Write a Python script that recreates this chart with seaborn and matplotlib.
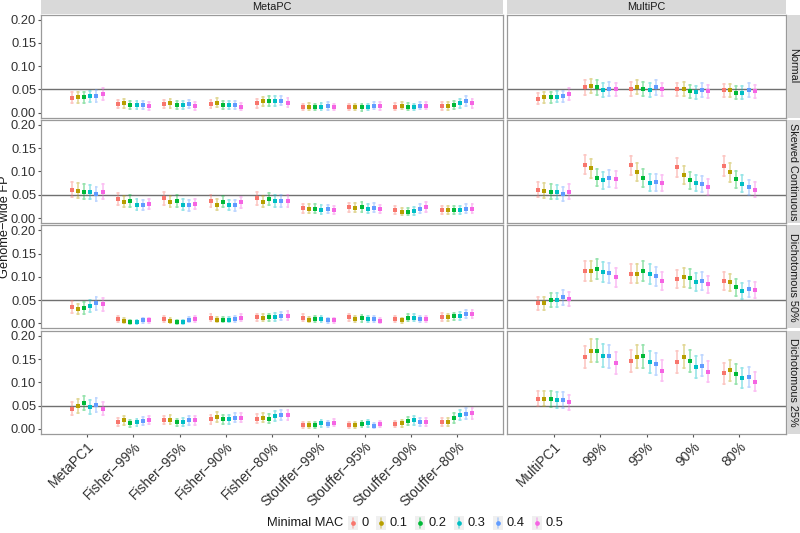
import numpy as np
import pandas as pd
import matplotlib
matplotlib.use("Agg")
import matplotlib.pyplot as plt
import seaborn as sns
from matplotlib.lines import Line2D
from matplotlib.patches import Rectangle

# ---------------- data ----------------
meta_methods = ["MetaPC1", "Fisher−99%", "Fisher−95%", "Fisher−90%", "Fisher−80%",
                "Stouffer−99%", "Stouffer−95%", "Stouffer−90%", "Stouffer−80%"]
multi_methods = ["MultiPC1", "99%", "95%", "90%", "80%"]
mac_levels = ["0", "0.1", "0.2", "0.3", "0.4", "0.5"]
scenarios = ["Normal", "Skewed Continuous", "Dichotomous 50%", "Dichotomous 25%"]
columns = ["MetaPC", "MultiPC"]
N_SIM = 850  # approx. number of simulations used for the binomial CI

normal_meta = [
    [0.032, 0.033, 0.033, 0.035, 0.036, 0.040],
    [0.019, 0.020, 0.017, 0.016, 0.017, 0.014],
    [0.019, 0.020, 0.017, 0.017, 0.019, 0.014],
    [0.019, 0.021, 0.017, 0.017, 0.017, 0.013],
    [0.020, 0.024, 0.025, 0.025, 0.026, 0.021],
    [0.012, 0.013, 0.012, 0.013, 0.014, 0.012],
    [0.012, 0.012, 0.011, 0.012, 0.015, 0.014],
    [0.013, 0.015, 0.013, 0.012, 0.015, 0.015],
    [0.014, 0.014, 0.017, 0.020, 0.025, 0.020]]
normal_multi = [
    [0.030, 0.033, 0.033, 0.034, 0.035, 0.040],
    [0.054, 0.057, 0.054, 0.049, 0.051, 0.050],
    [0.051, 0.055, 0.051, 0.049, 0.054, 0.050],
    [0.050, 0.051, 0.046, 0.044, 0.049, 0.046],
    [0.048, 0.048, 0.043, 0.043, 0.049, 0.046]]
skewed_meta = [
    [0.061, 0.059, 0.057, 0.056, 0.051, 0.057],
    [0.041, 0.035, 0.036, 0.029, 0.028, 0.030],
    [0.042, 0.035, 0.036, 0.029, 0.027, 0.030],
    [0.036, 0.029, 0.035, 0.028, 0.027, 0.034],
    [0.042, 0.035, 0.041, 0.037, 0.037, 0.037],
    [0.021, 0.020, 0.020, 0.018, 0.019, 0.017],
    [0.023, 0.022, 0.024, 0.020, 0.022, 0.019],
    [0.017, 0.014, 0.014, 0.015, 0.020, 0.024],
    [0.017, 0.017, 0.017, 0.017, 0.020, 0.020]]
skewed_multi = [
    [0.061, 0.059, 0.057, 0.056, 0.051, 0.057],
    [0.115, 0.107, 0.087, 0.081, 0.085, 0.083],
    [0.113, 0.099, 0.086, 0.076, 0.077, 0.075],
    [0.109, 0.093, 0.081, 0.075, 0.073, 0.067],
    [0.112, 0.098, 0.083, 0.074, 0.066, 0.061]]
dich50_meta = [
    [0.035, 0.031, 0.033, 0.038, 0.043, 0.041],
    [0.009, 0.006, 0.004, 0.004, 0.007, 0.007],
    [0.009, 0.006, 0.004, 0.004, 0.008, 0.009],
    [0.012, 0.008, 0.008, 0.008, 0.010, 0.012],
    [0.013, 0.012, 0.013, 0.014, 0.016, 0.017],
    [0.012, 0.008, 0.010, 0.009, 0.007, 0.007],
    [0.013, 0.009, 0.011, 0.009, 0.009, 0.006],
    [0.010, 0.007, 0.012, 0.012, 0.009, 0.009],
    [0.014, 0.013, 0.015, 0.016, 0.020, 0.020]]
dich50_multi = [
    [0.043, 0.043, 0.050, 0.051, 0.056, 0.053],
    [0.112, 0.113, 0.117, 0.110, 0.108, 0.099],
    [0.107, 0.107, 0.113, 0.106, 0.101, 0.092],
    [0.096, 0.099, 0.097, 0.089, 0.091, 0.084],
    [0.091, 0.088, 0.078, 0.070, 0.074, 0.071]]
dich25_meta = [
    [0.043, 0.049, 0.055, 0.047, 0.051, 0.043],
    [0.015, 0.018, 0.012, 0.014, 0.016, 0.019],
    [0.019, 0.020, 0.014, 0.015, 0.018, 0.018],
    [0.021, 0.025, 0.021, 0.021, 0.024, 0.024],
    [0.022, 0.024, 0.022, 0.028, 0.030, 0.030],
    [0.008, 0.008, 0.008, 0.012, 0.010, 0.013],
    [0.008, 0.008, 0.010, 0.012, 0.007, 0.010],
    [0.010, 0.012, 0.017, 0.018, 0.015, 0.015],
    [0.015, 0.015, 0.023, 0.030, 0.032, 0.033]]
dich25_multi = [
    [0.065, 0.065, 0.064, 0.062, 0.062, 0.057],
    [0.154, 0.168, 0.168, 0.157, 0.156, 0.142],
    [0.146, 0.155, 0.156, 0.144, 0.140, 0.125],
    [0.143, 0.155, 0.145, 0.133, 0.136, 0.123],
    [0.119, 0.126, 0.117, 0.109, 0.111, 0.101]]

panel_data = {
    ("Normal", "MetaPC"): normal_meta, ("Normal", "MultiPC"): normal_multi,
    ("Skewed Continuous", "MetaPC"): skewed_meta, ("Skewed Continuous", "MultiPC"): skewed_multi,
    ("Dichotomous 50%", "MetaPC"): dich50_meta, ("Dichotomous 50%", "MultiPC"): dich50_multi,
    ("Dichotomous 25%", "MetaPC"): dich25_meta, ("Dichotomous 25%", "MultiPC"): dich25_multi,
}

rows = []
for (scen, col), mat in panel_data.items():
    methods = meta_methods if col == "MetaPC" else multi_methods
    for m, vals in zip(methods, mat):
        for mac, v in zip(mac_levels, vals):
            rows.append(dict(scenario=scen, panel=col, method=m, mac=mac, fp=v))
df = pd.DataFrame(rows)
# seaborn skips intervals for single observations; repeat each estimate once
df2 = pd.concat([df, df], ignore_index=True)


def binom_ci(vals):
    p = float(np.mean(vals))
    se = np.sqrt(p * (1 - p) / N_SIM)
    return p - 1.96 * se, p + 1.96 * se


palette = ["#F8766D", "#B79F00", "#00BA38", "#00BFC4", "#619CFF", "#F564E3"]

# ---------------- figure ----------------
sns.set_theme(style="white")
plt.rcParams["font.family"] = ["Liberation Sans", "DejaVu Sans"]

W, H = 800, 533
fig = plt.figure(figsize=(W / 100, H / 100), dpi=100)


def fx(px):
    return px / W


def fy(py):
    return 1 - py / H


col_x = {"MetaPC": (41.0, 503.3), "MultiPC": (507.3, 785.7)}
row_top0, row_h, row_gap = 14.7, 102.8, 2.6
border_color = "#9A9A9A"
ERR_KWS = {"linewidth": 1.2, "alpha": 0.4}
MK = dict(marker="s", markersize=3.5, markeredgewidth=0)

for r, scen in enumerate(scenarios):
    top = row_top0 + r * (row_h + row_gap)
    bottom = top + row_h
    for col in columns:
        x0, x1 = col_x[col]
        ax = fig.add_axes([fx(x0), fy(bottom), fx(x1) - fx(x0), (row_h) / H])
        methods = meta_methods if col == "MetaPC" else multi_methods
        sub = df2[(df2.scenario == scen) & (df2.panel == col)]
        ax.axhline(0.05, color="#707070", linewidth=1.0, zorder=0)
        sns.pointplot(data=sub, x="method", y="fp", hue="mac", order=methods,
                      hue_order=mac_levels, palette=palette, dodge=0.667,
                      errorbar=binom_ci, capsize=0.04, linestyle="none",
                      err_kws=ERR_KWS, legend=False, ax=ax, **MK)
        ax.set_xlim(-1, len(methods))
        ax.set_ylim(-0.0105, 0.2105)
        ax.set_xlabel("")
        ax.set_ylabel("")
        ax.set_facecolor("white")
        for s in ax.spines.values():
            s.set_color(border_color)
            s.set_linewidth(0.9)
            s.set_visible(True)
        ax.set_yticks([0.0, 0.05, 0.10, 0.15, 0.20])
        ax.tick_params(axis="both", length=2.5, width=0.8, color="#555555",
                       labelcolor="#333333", labelsize=9.3, pad=1.0)
        ax.tick_params(axis="x", bottom=(r == 3), pad=1.5)
        if col == "MetaPC":
            ax.set_yticklabels(["0.00", "0.05", "0.10", "0.15", "0.20"])
            ax.tick_params(axis="y", left=True)
        else:
            ax.set_yticklabels([])
            ax.tick_params(axis="y", left=False)
        if r == 3:
            ax.set_xticks(range(len(methods)))
            ax.set_xticklabels(methods, rotation=45, ha="right", va="top",
                               rotation_mode="anchor", fontsize=10)
        else:
            ax.set_xticklabels([])
        ax.grid(False)

    # right strip
    fig.add_artist(Rectangle((fx(787), fy(bottom)), fx(800) - fx(787), row_h / H,
                             transform=fig.transFigure, facecolor="#D9D9D9",
                             edgecolor="none"))
    fig.text(fx(793.5), fy((top + bottom) / 2), scen, rotation=-90, ha="center",
             va="center", fontsize=7.8, color="#1A1A1A")

# top strips
for col in columns:
    x0, x1 = col_x[col]
    fig.add_artist(Rectangle((fx(x0), fy(13.5)), fx(x1) - fx(x0), 13.5 / H,
                             transform=fig.transFigure, facecolor="#D9D9D9",
                             edgecolor="none"))
    fig.text(fx((x0 + x1) / 2), fy(6.8), col, ha="center", va="center",
             fontsize=7.8, color="#1A1A1A")

# y label
fig.text(fx(5.0), fy(227), "Genome−wide FP", rotation=90, ha="center", va="center",
         fontsize=9.2, color="#1A1A1A")

# legend (drawn as keys in figure space)
leg_y = 523
fig.text(fx(267), fy(leg_y), "Minimal MAC", ha="left", va="center", fontsize=9.3,
         color="#1A1A1A")
renderer = fig.canvas.get_renderer()
kx = 352.7
for lab, c in zip(mac_levels, palette):
    fig.add_artist(Rectangle((fx(kx - 5), fy(leg_y + 7)), 10 / W, 14 / H,
                             transform=fig.transFigure, facecolor="#F0F0F0",
                             edgecolor="none"))
    fig.add_artist(Line2D([fx(kx), fx(kx)], [fy(leg_y + 5), fy(leg_y - 5)],
                          transform=fig.transFigure, color=c,
                          alpha=ERR_KWS["alpha"], lw=ERR_KWS["linewidth"]))
    fig.add_artist(Line2D([fx(kx)], [fy(leg_y)], transform=fig.transFigure,
                          color=c, linestyle="none", marker="o", markersize=3.4,
                          markeredgewidth=0))
    t = fig.text(fx(kx + 9), fy(leg_y), lab, ha="left", va="center", fontsize=9.3,
                 color="#1A1A1A")
    w = t.get_window_extent(renderer=renderer).width
    kx = kx + 9 + w + 12

fig.savefig("out.png", dpi=100)
